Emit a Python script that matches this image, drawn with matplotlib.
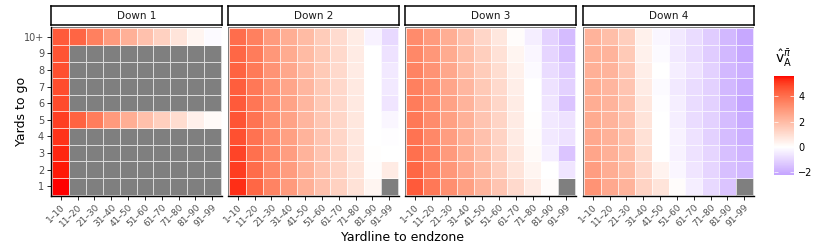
import numpy as np
import matplotlib
matplotlib.use('Agg')
import matplotlib.pyplot as plt
from matplotlib.colors import ListedColormap, Normalize

nan = np.nan

yardlines = ['1–10', '11–20', '21–30', '31–40', '41–50',
             '51–60', '61–70', '71–80', '81–90', '91–99']
to_go = ['1', '2', '3', '4', '5', '6', '7', '8', '9', '10+']
downs = ['Down 1', 'Down 2', 'Down 3', 'Down 4']

# rows: yards to go 1 .. 10+, columns: yardline bins
down1 = [
    [5.6, nan, nan, nan, nan, nan, nan, nan, nan, nan],
    [5.45, nan, nan, nan, nan, nan, nan, nan, nan, nan],
    [5.35, nan, nan, nan, nan, nan, nan, nan, nan, nan],
    [5.2, nan, nan, nan, nan, nan, nan, nan, nan, nan],
    [5.0, 4.3, 3.65, 2.9, 2.35, 1.85, 1.4, 1.0, 0.45, 0.15],
    [4.8, nan, nan, nan, nan, nan, nan, nan, nan, nan],
    [4.75, nan, nan, nan, nan, nan, nan, nan, nan, nan],
    [4.7, nan, nan, nan, nan, nan, nan, nan, nan, nan],
    [4.6, nan, nan, nan, nan, nan, nan, nan, nan, nan],
    [4.5, 4.25, 3.6, 2.9, 2.3, 1.8, 1.35, 0.8, 0.3, -0.1],
]
down2 = [
    [5.25, 4.2, 3.5, 2.9, 2.3, 1.8, 1.35, 0.85, 0.3, nan],
    [5.05, 4.1, 3.4, 2.85, 2.25, 1.75, 1.3, 0.8, 0.1, 0.6],
    [4.9, 4.0, 3.35, 2.8, 2.2, 1.7, 1.25, 0.75, 0.05, 0.0],
    [4.7, 3.95, 3.3, 2.75, 2.2, 1.7, 1.2, 0.7, 0.0, -0.05],
    [4.6, 3.9, 3.25, 2.7, 2.15, 1.65, 1.2, 0.7, 0.0, -0.2],
    [4.5, 3.85, 3.2, 2.65, 2.1, 1.6, 1.15, 0.65, 0.0, -0.6],
    [4.4, 3.8, 3.15, 2.6, 2.1, 1.6, 1.15, 0.65, 0.0, -0.5],
    [4.3, 3.75, 3.1, 2.55, 2.05, 1.55, 1.1, 0.6, 0.0, -0.5],
    [4.2, 3.7, 3.0, 2.45, 2.0, 1.55, 1.1, 0.6, 0.0, -0.7],
    [4.05, 3.6, 2.9, 2.35, 2.0, 1.5, 1.05, 0.55, -0.3, -0.9],
]
down3 = [
    [4.5, 3.8, 3.2, 2.75, 2.2, 1.7, 1.1, 0.6, 0.1, nan],
    [4.2, 3.6, 3.0, 2.5, 2.0, 1.45, 0.8, 0.3, 0.0, -0.6],
    [4.0, 3.5, 2.9, 2.4, 1.9, 1.35, 0.7, 0.15, -0.4, -1.4],
    [3.9, 3.4, 2.8, 2.3, 1.8, 1.3, 0.6, 0.1, -0.5, -0.7],
    [3.8, 3.3, 2.75, 2.25, 1.7, 1.25, 0.6, 0.05, -0.5, -0.7],
    [3.7, 3.25, 2.7, 2.2, 1.65, 1.2, 0.55, 0.0, -0.6, -1.4],
    [3.6, 3.2, 2.6, 2.1, 1.6, 1.1, 0.5, 0.0, -0.7, -1.1],
    [3.5, 3.1, 2.55, 2.0, 1.5, 1.0, 0.4, -0.1, -0.8, -1.2],
    [3.4, 3.0, 2.45, 1.9, 1.4, 0.9, 0.3, -0.2, -1.0, -1.5],
    [3.3, 2.9, 2.35, 1.8, 1.2, 0.7, 0.1, -0.4, -1.05, -1.6],
]
down4 = [
    [3.1, 2.5, 2.2, 1.3, 0.8, 0.1, -0.4, -0.9, -1.4, nan],
    [2.8, 2.4, 2.0, 1.15, 0.35, -0.2, -0.6, -1.0, -1.5, -1.7],
    [2.6, 2.3, 1.9, 1.0, 0.0, -0.3, -0.7, -1.0, -1.5, -1.8],
    [2.5, 2.25, 1.85, 0.9, 0.0, -0.3, -0.7, -1.1, -1.6, -1.9],
    [2.45, 2.2, 1.8, 0.8, 0.0, -0.4, -0.8, -1.1, -1.6, -2.0],
    [2.4, 2.2, 1.75, 0.7, -0.05, -0.4, -0.8, -1.1, -1.7, -2.2],
    [2.35, 2.15, 1.7, 0.6, -0.1, -0.5, -0.8, -1.1, -1.7, -2.0],
    [2.3, 2.2, 1.65, 0.5, 0.0, -0.4, -0.7, -1.1, -1.7, -1.9],
    [2.25, 2.2, 1.55, 0.4, -0.1, -0.5, -0.8, -1.2, -1.7, -2.1],
    [2.2, 1.9, 1.45, 0.4, -0.2, -0.5, -0.8, -1.2, -1.7, -2.1],
]
panels = [down1, down2, down3, down4]

vmin, vmax = -2.2, 5.6


# gradient interpolated in Lab space, like ggplot's gradient2
def rgb2lab(rgb):
    c = np.asarray(rgb, float)
    c = np.where(c > 0.04045, ((c + 0.055) / 1.055) ** 2.4, c / 12.92)
    m = np.array([[0.4124, 0.3576, 0.1805],
                  [0.2126, 0.7152, 0.0722],
                  [0.0193, 0.1192, 0.9505]])
    xyz = m @ c / np.array([0.95047, 1.0, 1.08883])
    f = np.where(xyz > (6 / 29) ** 3, np.cbrt(xyz), xyz / (3 * (6 / 29) ** 2) + 4 / 29)
    return np.array([116 * f[1] - 16, 500 * (f[0] - f[1]), 200 * (f[1] - f[2])])


def lab2rgb(lab):
    L, a, b = lab
    fy = (L + 16) / 116
    f = np.array([fy + a / 500, fy, fy - b / 200])
    t = np.where(f > 6 / 29, f ** 3, 3 * (6 / 29) ** 2 * (f - 4 / 29))
    xyz = t * np.array([0.95047, 1.0, 1.08883])
    m = np.array([[3.2406, -1.5372, -0.4986],
                  [-0.9689, 1.8758, 0.0415],
                  [0.0557, -0.2040, 1.0570]])
    c = m @ xyz
    c = np.where(c > 0.0031308, 1.055 * np.abs(c) ** (1 / 2.4) - 0.055, 12.92 * c)
    return np.clip(c, 0, 1)


low = rgb2lab([0xc4 / 255, 0xa4 / 255, 1.0])
mid = rgb2lab([1.0, 1.0, 1.0])
high = rgb2lab([1.0, 0.0, 0.0])
colours = []
for v in np.linspace(vmin, vmax, 256):
    if v < 0:
        s = v / vmin
        colours.append(lab2rgb(mid + (low - mid) * s))
    else:
        s = v / vmax
        colours.append(lab2rgb(mid + (high - mid) * s))
cmap = ListedColormap(colours)
cmap.set_bad('#7f7f7f')
norm = Normalize(vmin=vmin, vmax=vmax)

W, H = 830, 249
fig = plt.figure(figsize=(8.3, 2.49), dpi=100)

lefts = [51, 228, 405, 583]
pw = 171
ptop, pbot = 27, 196
grey = '#4d4d4d'

for i, (name, data) in enumerate(zip(downs, panels)):
    x0 = lefts[i]
    ax = fig.add_axes([x0 / W, 1 - pbot / H, pw / W, (pbot - ptop) / H])
    arr = np.ma.masked_invalid(np.array(data))
    ax.set_facecolor('#7f7f7f')
    ax.pcolormesh(np.arange(11), np.arange(11), arr, cmap=cmap, norm=norm,
                  edgecolors=(1, 1, 1, 0.7), linewidth=0.5)
    ax.set_xlim(-0.08, 10.08)
    ax.set_ylim(-0.08, 10.08)
    ax.set_xticks(np.arange(10) + 0.5)
    ax.set_xticklabels(yardlines, rotation=45, ha='right', rotation_mode='anchor',
                       fontsize=6.5, color=grey)
    for s in ['top', 'right']:
        ax.spines[s].set_visible(False)
    ax.spines['bottom'].set_linewidth(1.0)
    ax.tick_params(axis='x', length=3, width=0.6, pad=2, colors='black', labelcolor=grey)
    if i == 0:
        ax.set_yticks(np.arange(10) + 0.5)
        ax.set_yticklabels(to_go, fontsize=7, color=grey)
        ax.tick_params(axis='y', length=3, width=0.6, pad=2, labelcolor=grey)
        ax.spines['left'].set_linewidth(1.0)
    else:
        ax.set_yticks([])
        ax.spines['left'].set_visible(False)

    # facet strip
    sax = fig.add_axes([x0 / W, 1 - 25 / H, pw / W, 19 / H])
    sax.set_xticks([])
    sax.set_yticks([])
    for s in sax.spines.values():
        s.set_linewidth(1.1)
    sax.text(0.5, 0.5, name, ha='center', va='center', fontsize=7.5, color='#1a1a1a',
             transform=sax.transAxes)

fig.text(22 / W, 1 - 111 / H, 'Yards to go', rotation=90, ha='center', va='center',
         fontsize=9)
fig.text(402 / W, 1 - 237 / H, 'Yardline to endzone', ha='center', va='center',
         fontsize=9)

# colour bar
cax = fig.add_axes([774 / W, 1 - 175 / H, 20 / W, 99 / H])
sm = plt.cm.ScalarMappable(norm=norm, cmap=cmap)
cb = fig.colorbar(sm, cax=cax, ticks=[-2, 0, 2, 4])
cb.outline.set_visible(False)
cax.tick_params(direction='in', color='white', length=3, width=0.5,
                left=True, right=True, labelsize=7, pad=3)
cax.set_yticklabels(['\u22122', '0', '2', '4'])
fig.text(775 / W, 1 - 58 / H, r'$\hat{\mathrm{v}}_\mathrm{A}^{\bar{\pi}}$', ha='left',
         va='center', fontsize=10)

fig.savefig('out.png', dpi=100)
